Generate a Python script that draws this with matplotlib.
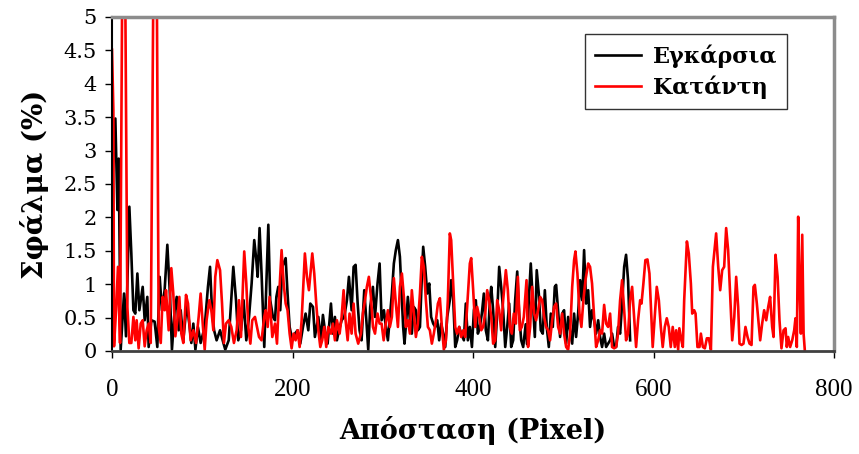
import matplotlib
matplotlib.use("Agg")
import matplotlib.pyplot as plt

# ── Data ──────────────────────────────────────────
black_x = [0, 3.7, 6.0, 7.4, 9.6, 13.3, 15.5, 19.2, 21.4, 23.7, 25.8, 28.1, 30.3, 34.0, 36.2, 39.1,
           40.6, 43.6, 47.2, 50.2, 52.8, 55.3, 58.3, 61.3, 64.3, 66.4, 69.4, 71.7, 73.9, 76.1, 79.0,
           82.8, 85.6, 87.9, 90.1, 92.4, 95.2, 98.2, 102.7, 106.3, 108.6, 110.8, 113.1, 115.9, 119.7,
           123.4, 125.5, 129.3, 134.4, 137.4, 139.9, 142.9, 145.8, 148.8, 151.8, 154.7, 157.6, 159.9,
           161.4, 163.5, 165.7, 168.7, 173.2, 175.3, 178.3, 180.6, 182.1, 184.2, 186.4, 188.7, 192.4,
           194.5, 196.8, 199.8, 202.7, 205.6, 208.6, 211.6, 214.5, 217.5, 219.7, 222.7, 224.8, 228.6,
           231.5, 233.7, 235.9, 238.9, 242.6, 244.8, 247.0, 249.2, 251.5, 254.4, 257.3, 260.3, 262.5,
           265.5, 267.7, 269.9, 272.2, 274.3, 276.5, 279.5, 281.8, 283.9, 286.1, 289.1, 291.4, 294.2,
           296.5, 298.7, 301.3, 303.4, 305.7, 307.9, 310.1, 312.3, 314.5, 316.8, 319.0, 320.5, 322.6,
           324.1, 326.3, 327.8, 330.1, 332.2, 334.4, 336.7, 338.9, 341.2, 343.3, 344.8, 347.0, 349.3,
           351.5, 353.6, 355.9, 358.1, 360.4, 362.5, 364.7, 367.0, 369.2, 371.4, 374.3, 375.8, 378.1,
           380.3, 382.4, 384.7, 386.9, 389.9, 392.0, 394.3, 396.5, 398.8, 401.0, 403.1, 405.4, 407.6,
           409.8, 412.0, 414.2, 416.5, 418.7, 420.2, 422.3, 424.6, 426.8, 429.0, 431.2, 433.4, 435.7,
           437.9, 440.1, 442.3, 444.5, 446.7, 449.0, 451.1, 453.4, 455.6, 458.4, 460.0, 461.8, 464.0,
           466.3, 468.5, 470.6, 472.9, 475.1, 477.3, 479.6, 481.7, 484.0, 486.2, 488.4, 490.6, 492.1,
           494.3, 496.5, 498.8, 500.9, 503.2, 505.4, 507.6, 509.9, 512.0, 514.2, 516.5, 518.7, 521.0,
           523.1, 525.3, 527.6, 529.7, 531.9, 534.2, 536.4, 538.7, 540.8, 543.0, 545.3, 547.5, 549.7,
           551.9, 554.1, 556.4, 558.6, 560.7, 563.0, 565.2, 567.5, 569.6, 571.8, 574.1]
black_y = [2.46, 3.48, 2.11, 2.88, 0.02, 0.86, 0.22, 2.16, 1.46, 0.61, 0.56, 1.16, 0.61, 0.96, 0.46, 0.81,
           0.06, 0.46, 0.44, 0.06, 1.11, 0.61, 0.91, 1.59, 0.81, 0.02, 0.61, 0.81, 0.31, 0.61, 0.16,
           0.71, 0.41, 0.12, 0.41, 0.02, 0.36, 0.12, 0.36, 0.96, 1.26, 0.61, 0.31, 0.16, 0.31,
           0.12, 0.02, 0.16, 1.26, 0.76, 0.16, 0.31, 0.76, 0.16, 0.51, 1.01, 1.66, 1.36,
           1.11, 1.84, 1.16, 0.06, 1.89, 0.76, 0.51, 0.46, 0.81, 0.96, 0.61, 1.26, 1.39,
           0.86, 0.36, 0.16, 0.26, 0.31, 0.11, 0.36, 0.56, 0.31, 0.71, 0.66, 0.21, 0.51,
           0.16, 0.54, 0.31, 0.11, 0.71, 0.26, 0.51, 0.16, 0.31, 0.46, 0.51, 0.76, 1.11,
           0.61, 1.26, 1.29, 0.71, 0.31, 0.16, 0.91, 0.46, 0.02, 0.66, 0.96, 0.51, 1.01,
           1.31, 0.46, 0.61, 0.36, 0.16, 0.51, 0.86, 1.31, 1.51, 1.66, 1.41, 0.96, 0.36,
           0.11, 0.51, 0.81, 0.46, 0.26, 0.66, 0.61, 0.31, 0.36, 1.11, 1.56, 1.26, 0.86,
           1.01, 0.51, 0.41, 0.36, 0.46, 0.16, 0.41, 0.26, 0.06, 0.51, 0.76, 1.06, 0.76,
           0.06, 0.16, 0.36, 0.26, 0.16, 0.71, 0.16, 0.36, 0.06, 0.61, 0.76, 0.26, 0.36,
           0.56, 0.86, 0.31, 0.16, 0.76, 0.96, 0.61, 0.06, 0.56, 1.26, 0.96, 0.61, 0.06,
           0.36, 0.71, 0.06, 0.16, 0.76, 1.19, 0.56, 0.16, 0.06, 0.40, 0.10, 0.76, 1.31,
           0.76, 0.21, 1.21, 0.86, 0.31, 0.26, 0.91, 0.36, 0.06, 0.56, 0.36, 0.96, 0.99,
           0.61, 0.21, 0.56, 0.61, 0.11, 0.51, 0.31, 0.11, 0.56, 0.21, 0.56, 1.06, 0.76,
           1.51, 0.71, 0.91, 0.36, 0.61, 0.46, 0.26, 0.46, 0.21, 0.06, 0.26, 0.06, 0.11,
           0.16, 0.26, 0.06, 0.06, 0.36, 0.26, 0.71, 1.26, 1.44, 1.06, 0.16]

red_x = [0, 1.5, 2.2, 4.5, 6.6, 8.9, 12.9, 17.0, 19.2, 21.4, 23.7, 25.8, 27.3, 29.5, 31.8, 34.0, 36.2,
         38.4, 40.6, 42.9, 48.0, 51.7, 54.0, 56.1, 58.4, 59.8, 62.8, 65.7, 67.9, 70.2, 72.4, 74.6,
         76.8, 79.0, 82.0, 84.2, 87.1, 90.1, 93.1, 96.0, 98.2, 100.5, 102.7, 104.8, 107.8, 110.1,
         112.3, 114.4, 116.7, 119.7, 121.9, 124.0, 126.3, 129.3, 132.2, 135.1, 138.1, 140.7, 142.9,
         146.5, 148.8, 151.0, 153.3, 155.4, 158.4, 160.6, 162.9, 165.7, 168.7, 170.2, 172.5, 174.6,
         177.6, 180.6, 182.8, 184.9, 187.9, 190.2, 192.4, 194.5, 196.8, 199.0, 201.2, 203.4, 205.6,
         207.9, 210.1, 213.7, 216.0, 218.2, 221.9, 224.1, 226.3, 228.6, 230.8, 232.9, 235.2, 237.4,
         239.6, 242.6, 244.8, 247.0, 249.2, 252.2, 254.4, 256.6, 258.8, 261.1, 263.2, 265.5, 267.7,
         269.9, 272.8, 275.8, 278.0, 280.3, 282.4, 284.6, 286.9, 289.1, 291.4, 294.2, 296.5, 298.7,
         301.0, 303.4, 305.7, 307.9, 310.1, 312.3, 314.5, 316.8, 319.0, 321.2, 323.4, 325.6, 327.8,
         330.1, 332.2, 334.4, 336.7, 338.9, 341.2, 343.3, 345.5, 347.8, 350.0, 352.2, 354.4, 356.6,
         358.9, 361.1, 363.3, 365.5, 367.7, 370.0, 372.1, 374.3, 375.8, 378.1, 380.3, 382.4, 384.7,
         386.9, 389.2, 391.3, 393.5, 396.5, 398.0, 400.2, 402.4, 404.6, 406.9, 409.1, 411.2, 413.5,
         415.7, 417.9, 420.2, 422.3, 424.6, 426.8, 429.0, 431.2, 433.4, 436.4, 438.6, 440.8, 443.0,
         445.2, 447.5, 449.7, 451.9, 454.1, 456.3, 459.3, 461.0, 463.3, 465.5, 467.7, 469.9, 472.1,
         474.4, 476.6, 478.8, 481.0, 483.2, 485.4, 487.7, 489.9, 492.1, 494.3, 496.5, 498.8, 500.9,
         503.2, 505.4, 507.6, 509.9, 512.0, 513.5, 515.7, 518.0, 520.1, 522.3, 524.6, 527.6, 529.7,
         531.9, 534.2, 536.4, 538.7, 540.8, 543.0, 545.3, 547.5, 549.7, 551.9, 554.1, 556.4, 558.6,
         560.7, 563.0, 565.2, 567.5, 569.6, 571.8, 574.1, 576.3, 578.5, 580.7, 582.9, 585.2, 586.7,
         588.8, 591.0, 593.3, 595.5, 597.7, 599.1, 601.4, 603.6, 605.9, 608.1, 610.2, 612.5, 614.7,
         616.9, 619.1, 621.3, 623.6, 625.1, 627.3, 628.6, 630.9, 632.5, 634.0, 637.0, 639.1, 641.4,
         642.9, 645.1, 646.6, 648.7, 651.0, 652.5, 654.7, 656.9, 659.1, 661.3, 663.6, 665.8, 668.0,
         669.4, 671.7, 673.9, 676.1, 678.3, 680.5, 682.7, 685.0, 687.2, 689.5, 691.6, 693.8, 695.3,
         697.6, 699.7, 701.9, 704.2, 706.4, 708.6, 710.8, 712.3, 714.5, 716.8, 718.2, 720.4, 722.6,
         724.9, 727.1, 729.2, 731.5, 733.0, 735.2, 737.5, 739.6, 741.8, 744.1, 746.3, 747.7, 749.2,
         751.4, 753.7, 755.9, 757.3, 758.8, 760.3, 761.8, 763.3, 764.8, 766.3, 767.6]
red_y = [4.51, 3.6, 0.07, 0.61, 1.26, 0.12, 9.0, 0.66, 0.12, 0.12, 0.51, 0.16, 0.46, 0.04, 0.41, 0.46, 0.07,
         0.31, 0.41, 0.12, 9.5, 0.36, 0.12, 0.81, 0.61, 0.91, 0.31, 1.24, 0.86, 0.22, 0.46, 0.81,
         0.26, 0.12, 0.84, 0.71, 0.16, 0.31, 0.12, 0.51, 0.86, 0.41, 0.02, 0.46, 0.76, 0.61,
         0.31, 1.11, 1.36, 1.21, 0.71, 0.12, 0.41, 0.46, 0.36, 0.12, 0.31, 0.76, 0.21,
         1.49, 1.01, 0.36, 0.11, 0.46, 0.51, 0.36, 0.21, 0.16, 0.51, 0.61, 0.36, 0.81,
         0.21, 0.41, 0.11, 0.76, 1.51, 1.01, 0.71, 0.61, 0.26, 0.04, 0.26, 0.16, 0.31,
         0.06, 0.46, 1.46, 1.11, 0.91, 1.46, 1.16, 0.71, 0.31, 0.06, 0.16, 0.36, 0.06,
         0.36, 0.26, 0.41, 0.16, 0.46, 0.26, 0.51, 0.91, 0.46, 0.16, 0.56, 0.26, 0.71,
         0.26, 0.11, 0.26, 0.56, 0.76, 0.96, 1.11, 0.81, 0.36, 0.26, 0.56, 0.41, 0.41,
         0.16, 0.41, 0.61, 0.36, 0.51, 1.09, 0.71, 0.36, 0.96, 1.16, 0.81, 0.36, 0.46,
         0.26, 0.91, 0.56, 0.21, 0.41, 0.86, 1.41, 1.26, 0.76, 0.36, 0.31, 0.11, 0.26,
         0.46, 0.71, 0.79, 0.36, 0.02, 0.16, 0.76, 1.76, 1.66, 1.01, 0.36, 0.26, 0.36,
         0.21, 0.31, 0.21, 0.66, 1.31, 1.39, 0.91, 0.36, 0.66, 0.51, 0.31, 0.36, 0.56,
         0.91, 0.76, 0.51, 0.11, 0.16, 0.76, 0.61, 0.31, 0.76, 1.21, 0.91, 0.36, 0.26,
         0.56, 0.41, 1.11, 0.31, 0.36, 0.51, 1.06, 0.06, 0.36, 0.96, 0.56, 0.46, 0.61,
         0.81, 0.76, 0.51, 0.36, 0.31, 0.16, 0.46, 0.66, 0.71, 0.36, 0.26, 0.56, 0.26,
         0.06, 0.02, 0.26, 0.96, 1.36, 1.49, 1.16, 0.56, 0.36, 0.76, 1.06, 1.31, 1.26,
         1.01, 0.51, 0.06, 0.16, 0.31, 0.26, 0.69, 0.41, 0.36, 0.56, 0.06, 0.04, 0.06,
         0.26, 0.76, 1.06, 0.61, 0.16, 0.26, 0.76, 0.96, 0.51, 0.06, 0.46, 0.76, 0.71,
         1.01, 1.36, 1.37, 1.16, 0.51, 0.06, 0.51, 0.96, 0.76, 0.36, 0.06, 0.36, 0.49,
         0.36, 0.06, 0.36, 0.06, 0.31, 0.02, 0.34, 0.16, 0.06, 0.76, 1.64, 1.46, 1.01,
         0.56, 0.61, 0.56, 0.06, 0.06, 0.26, 0.06, 0.04, 0.19, 0.19, 0.02, 1.26, 1.56,
         1.76, 1.26, 0.91, 1.21, 1.26, 1.84, 1.51, 0.81, 0.16, 0.51, 1.11, 0.66, 0.11,
         0.09, 0.11, 0.36, 0.21, 0.11, 0.09, 0.96, 0.99, 0.71, 0.36, 0.16, 0.41, 0.61,
         0.46, 0.66, 0.81, 0.36, 0.21, 1.44, 1.11, 0.46, 0.04, 0.31, 0.34, 0.06, 0.21,
         0.06, 0.16, 0.31, 0.49, 0.06, 2.01, 1.01, 0.26, 1.74, 0.26, 0.02]

series_labels = ["Εγκάρσια", "Κατάντη"]
x_ticks = [0, 200, 400, 600, 800]
y_ticks = [0, 0.5, 1, 1.5, 2, 2.5, 3, 3.5, 4, 4.5, 5]

# ── Figure ────────────────────────────────────────
fig = plt.figure(figsize=(8.59, 4.54), dpi=100)
ax = fig.add_axes([0.1304, 0.2269, 0.8405, 0.7357])

ax.plot(black_x, black_y, color="black", linewidth=1.9, label=series_labels[0])
ax.plot(red_x, red_y, color="#ff0000", linewidth=1.9, label=series_labels[1])

ax.set_xlim(0, 800)
ax.set_ylim(0, 5)
ax.set_xticks(x_ticks)
ax.set_yticks(y_ticks)
ax.set_xticklabels([str(v) for v in x_ticks], family="Liberation Serif", fontsize=18)
ax.set_yticklabels([f"{v:g}" for v in y_ticks], family="DejaVu Serif", fontsize=15)
ax.tick_params(axis="both", direction="out", length=5, width=1, color="black")
ax.tick_params(axis="x", pad=15)
ax.tick_params(axis="y", pad=6)

ax.set_xlabel("Απόσταση (Pixel)", family="DejaVu Serif", fontweight="bold", fontsize=19.5, labelpad=11)
ax.set_ylabel("Σφάλμα (%)", family="DejaVu Serif", fontweight="bold", fontsize=20, labelpad=10)

ax.spines["left"].set_color("black")
ax.spines["left"].set_linewidth(1.5)
ax.spines["bottom"].set_color("#404040")
ax.spines["bottom"].set_linewidth(2)
for side in ["top", "right"]:
    ax.spines[side].set_color("#8c8c8c")
    ax.spines[side].set_linewidth(2.5)

leg = ax.legend(loc="upper right", bbox_to_anchor=(0.935, 0.949), borderaxespad=0, frameon=True,
                fancybox=False, edgecolor="black", handlelength=2.1, borderpad=0.45, labelspacing=0.35,
                handletextpad=0.5, prop={"family": "DejaVu Serif", "weight": "bold", "size": 16})
leg.get_frame().set_linewidth(1.0)

fig.savefig("out.png", dpi=100)
